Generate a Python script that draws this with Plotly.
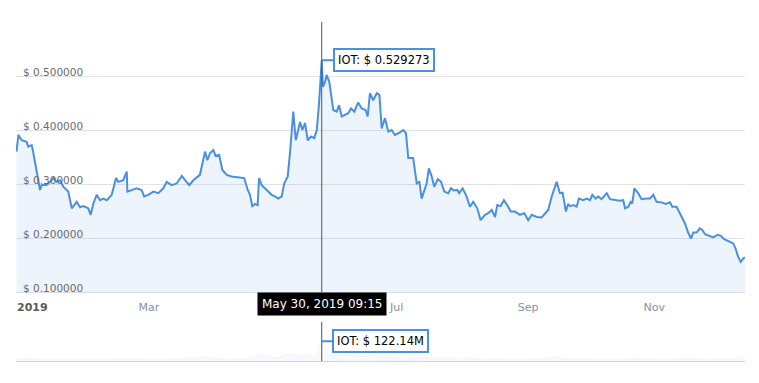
import pandas as pd
import plotly.graph_objects as go

START = pd.Timestamp("2019-01-01")

# price series (days since 2019-01-01, USD)
price_days = [0.0, 0.9, 2.5, 4.9, 5.7, 7.4, 8.2, 9.0, 11.4, 12.2, 14.6, 16.3, 17.9, 19.5, 21.1, 22.7,
              25.1, 26.8, 29.2, 30.8, 32.4, 34.8, 36.0, 37.3, 38.9, 40.5, 42.1, 43.8, 46.2, 48.3, 49.4,
              51.8, 53.5, 53.8, 56.7, 58.3, 60.7, 61.9, 63.9, 66.4, 68.8, 71.2, 72.9, 75.3, 77.7, 80.2,
              81.8, 83.8, 85.8, 89.0, 91.5, 92.6, 93.9, 95.5, 96.6, 98.3, 99.9, 102.0, 104.4, 107.6,
              110.5, 112.2, 113.3, 114.4, 115.7, 117.0, 117.7, 119.0, 121.4, 123.8, 125.4, 127.0, 128.7,
              129.9, 131.6, 132.7, 134.3, 135.5, 137.6, 138.7, 140.0, 141.3, 142.9, 144.5, 145.7, 146.8,
              148.1, 148.7, 149.7, 150.5, 151.8, 152.6, 153.7, 155.4, 156.5, 157.8, 159.4, 161.0, 162.3,
              163.9, 165.8, 167.5, 169.4, 170.4, 171.5, 173.1, 174.8, 176.1, 177.2, 178.8, 180.4, 182.0,
              183.6, 185.3, 187.7, 189.0, 190.1, 192.5, 194.2, 195.5, 196.6, 198.2, 199.0, 200.1, 201.5,
              202.7, 204.4, 206.0, 207.6, 209.5, 210.8, 212.3, 213.9, 214.8, 216.5, 218.4, 220.0, 221.6,
              223.6, 225.2, 227.3, 228.9, 230.6, 232.2, 233.3, 234.9, 236.5, 238.6, 239.8, 241.9, 244.3,
              246.4, 248.3, 250.0, 252.4, 254.8, 256.4, 258.0, 259.7, 262.1, 263.7, 265.0, 266.6, 267.7,
              268.6, 270.2, 271.8, 272.9, 275.0, 276.6, 278.3, 279.4, 281.0, 282.3, 283.9, 286.4, 288.0,
              290.4, 292.8, 294.4, 295.3, 296.9, 298.0, 298.8, 299.8, 301.7, 303.3, 305.8, 307.4, 309.0,
              310.6, 313.0, 315.0, 317.1, 318.2, 320.3, 321.9, 323.5, 324.4, 325.7, 327.3, 328.4, 330.0,
              331.6, 332.8, 334.1, 336.5, 338.1, 340.2, 341.8, 343.4, 346.2, 347.8, 348.9, 350.2, 351.4,
              352.6, 353.5]
price_values = [0.360, 0.391, 0.381, 0.378, 0.369, 0.372, 0.357, 0.340, 0.289, 0.298, 0.298, 0.304, 0.311,
                0.304, 0.307, 0.295, 0.286, 0.255, 0.267, 0.257, 0.259, 0.255, 0.243, 0.264, 0.280, 0.270,
                0.273, 0.270, 0.280, 0.311, 0.304, 0.307, 0.323, 0.286, 0.289, 0.292, 0.289, 0.277, 0.280,
                0.286, 0.283, 0.292, 0.304, 0.298, 0.301, 0.315, 0.307, 0.298, 0.307, 0.317, 0.360, 0.344,
                0.357, 0.363, 0.352, 0.354, 0.326, 0.317, 0.314, 0.312, 0.311, 0.289, 0.280, 0.259, 0.263,
                0.261, 0.311, 0.298, 0.289, 0.280, 0.277, 0.273, 0.277, 0.301, 0.314, 0.357, 0.434, 0.381,
                0.415, 0.400, 0.413, 0.381, 0.388, 0.385, 0.400, 0.449, 0.529273, 0.480, 0.489, 0.502,
                0.489, 0.468, 0.437, 0.434, 0.446, 0.425, 0.428, 0.431, 0.440, 0.434, 0.451, 0.440, 0.437,
                0.425, 0.468, 0.455, 0.468, 0.465, 0.403, 0.422, 0.397, 0.400, 0.391, 0.394, 0.400, 0.394,
                0.348, 0.348, 0.301, 0.304, 0.273, 0.295, 0.301, 0.329, 0.314, 0.295, 0.309, 0.304, 0.286,
                0.283, 0.292, 0.288, 0.289, 0.283, 0.292, 0.277, 0.258, 0.267, 0.255, 0.233, 0.243, 0.246,
                0.252, 0.239, 0.261, 0.259, 0.270, 0.258, 0.249, 0.249, 0.243, 0.246, 0.233, 0.243, 0.239,
                0.238, 0.246, 0.252, 0.277, 0.304, 0.283, 0.284, 0.249, 0.263, 0.259, 0.261, 0.258, 0.273,
                0.270, 0.273, 0.270, 0.280, 0.273, 0.277, 0.272, 0.283, 0.272, 0.270, 0.269, 0.270, 0.255,
                0.258, 0.267, 0.264, 0.292, 0.283, 0.272, 0.273, 0.273, 0.280, 0.267, 0.266, 0.263, 0.266,
                0.258, 0.258, 0.246, 0.236, 0.227, 0.212, 0.199, 0.210, 0.210, 0.218, 0.215, 0.207, 0.204,
                0.201, 0.206, 0.204, 0.198, 0.193, 0.190, 0.181, 0.165, 0.156, 0.162, 0.164]

# volume series (days since 2019-01-01, millions USD)
vol_days = [0, 7, 14, 21, 28, 35, 42, 49, 56, 63, 70, 77, 84, 91, 98, 105, 112, 119, 126, 133, 137, 141,
            145, 148.1, 151, 155, 160, 165, 170, 175, 180, 187, 194, 201, 208, 215, 222, 229, 236, 243,
            250, 257, 262, 264, 271, 278, 285, 292, 299, 306, 313, 320, 327, 334, 341, 348, 351, 353.5]
vol_values = [12, 15, 10, 9, 12, 8, 10, 14, 12, 9, 10, 12, 15, 25, 14, 12, 11, 40, 18, 45, 30, 38,
              28, 122.14, 40, 30, 35, 28, 30, 33, 24, 18, 20, 18, 15, 14, 12, 12, 11, 10,
              11, 14, 25, 15, 12, 11, 12, 10, 15, 11, 10, 12, 15, 11, 10, 12, 30, 12]

tick_dates = ["2019-01-01", "2019-03-01", "2019-07-01", "2019-09-01", "2019-11-01"]
tick_text = ["<b><span style='color:#5a5a5a'>2019</span></b>", "Mar", "Jul", "Sep", "Nov"]
y_ticks = [0.1, 0.2, 0.3, 0.4, 0.5, 0.6]

hover_label = "May 30, 2019 09:15"

px_dates = START + pd.to_timedelta(price_days, unit="D")
vol_dates = START + pd.to_timedelta(vol_days, unit="D")

peak_i = price_values.index(max(price_values))
peak_date = px_dates[peak_i]
peak_val = price_values[peak_i]
vol_peak_i = vol_days.index(price_days[peak_i])
vol_peak = vol_values[vol_peak_i]

BLUE = "#4a90e2"
FONT = "DejaVu Sans"

fig = go.Figure()
fig.add_trace(go.Scatter(x=px_dates, y=price_values, mode="lines",
                         line=dict(color=BLUE, width=2),
                         fill="tozeroy", fillcolor="rgba(74,144,226,0.10)",
                         xaxis="x", yaxis="y", hoverinfo="skip"))
fig.add_trace(go.Scatter(x=vol_dates, y=vol_values, mode="lines",
                         line=dict(color="rgba(74,144,226,0.06)", width=1),
                         fill="tozeroy", fillcolor="rgba(74,144,226,0.05)",
                         xaxis="x2", yaxis="y2", hoverinfo="skip"))

main_dom = [0.2035, 1.0]
vol_dom = [0.0, 0.115]
x_range = [START - pd.Timedelta(hours=6), px_dates[-1]]

fig.update_layout(
    width=759, height=383,
    margin=dict(l=16, r=14, t=22, b=22, autoexpand=False),
    paper_bgcolor="white", plot_bgcolor="white",
    showlegend=False,
    font=dict(family=FONT, size=11, color="#666"),
    xaxis=dict(domain=[0, 1], anchor="y", range=x_range, type="date", automargin=False,
               tickvals=tick_dates, ticktext=tick_text, ticks="",
               ticklabelposition="outside right", ticklabelstandoff=5,
               ticklabeloverflow="allow",
               tickfont=dict(family=FONT, size=11, color="#8292a8"),
               showgrid=False, zeroline=False,
               showline=True, linecolor="#d9dee6", linewidth=1),
    yaxis=dict(domain=main_dom, anchor="free", position=0, side="right",
               range=[0.1, 0.6], automargin=False,
               tickvals=y_ticks,
               ticktext=[f"$ {v:.6f}" for v in y_ticks[:-1]] + [""],
               ticklabelposition="outside top", ticks="",
               ticklabelstandoff=6, ticklabelshift=4,
               ticklabeloverflow="allow",
               tickfont=dict(family=FONT, size=10.5, color="#6b6b6b"),
               showgrid=True, gridcolor="#e3e3e3", gridwidth=1,
               zeroline=False, showline=False),
    xaxis2=dict(domain=[0, 1], anchor="y2", range=x_range, type="date", automargin=False,
                showticklabels=False, ticks="", showgrid=False, zeroline=False,
                showline=True, linecolor="#d0d4da", linewidth=1),
    yaxis2=dict(domain=vol_dom, anchor="x2", range=[0, 240], automargin=False,
                showticklabels=False, ticks="", showgrid=False, zeroline=False,
                showline=False),
)

# crosshair lines
fig.add_shape(type="line", xref="x", yref="y domain", x0=peak_date, x1=peak_date, y0=0, y1=1,
              line=dict(color="#555", width=1))
fig.add_shape(type="line", xref="x2", yref="y2 domain", x0=peak_date, x1=peak_date, y0=0, y1=1,
              line=dict(color="#555", width=1))

# tooltips
fig.add_annotation(x=peak_date, y=peak_val, xref="x", yref="y",
                   text=f"IOT: $ {peak_val:.6f}", showarrow=True, ax=62, ay=0,
                   arrowcolor=BLUE, arrowwidth=2, arrowhead=0, standoff=0,
                   bgcolor="white", bordercolor=BLUE, borderwidth=2, borderpad=3,
                   font=dict(family=FONT, size=11.5, color="#000"))
fig.add_annotation(x=peak_date, y=vol_peak, xref="x2", yref="y2",
                   text=f"IOT: $ {vol_peak:.2f}M", showarrow=True, ax=59, ay=0,
                   arrowcolor=BLUE, arrowwidth=2, arrowhead=0, standoff=0,
                   bgcolor="white", bordercolor=BLUE, borderwidth=2, borderpad=3,
                   font=dict(family=FONT, size=11.5, color="#000"))
fig.add_annotation(x=peak_date, y=main_dom[0], xref="x", yref="paper",
                   text=hover_label, showarrow=False, yanchor="top",
                   bgcolor="#000", borderpad=4,
                   font=dict(family=FONT, size=12, color="#fff"))

fig.write_html("out.html", config={"displayModeBar": False},
               post_script="document.body.style.margin='0px';")
